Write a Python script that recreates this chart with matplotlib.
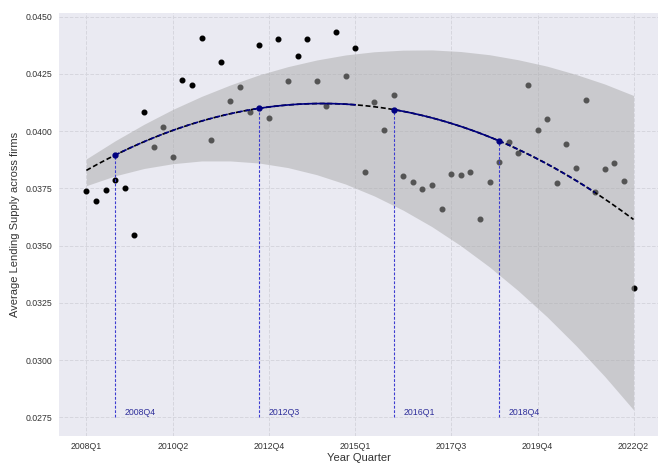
import numpy as np
import matplotlib.pyplot as plt

# quarters 2008Q1 .. 2022Q2
quarters = [f"{y}Q{q}" for y in range(2008, 2023) for q in range(1, 5)][:58]

supply = [0.03740, 0.03695, 0.03742, 0.03786, 0.03751, 0.03547, 0.04083, 0.03930,
          0.04018, 0.03887, 0.04224, 0.04202, 0.04408, 0.03960, 0.04302, 0.04133,
          0.04194, 0.04084, 0.04375, 0.04059, 0.04401, 0.04221, 0.04328, 0.04403,
          0.04221, 0.04109, 0.04432, 0.04240, 0.04362, 0.03822, 0.04126, 0.04004,
          0.04158, 0.03806, 0.03777, 0.03748, 0.03765, 0.03659, 0.03813, 0.03807,
          0.03823, 0.03615, 0.03780, 0.03864, 0.03954, 0.03906, 0.04202, 0.04005,
          0.04052, 0.03775, 0.03945, 0.03838, 0.04135, 0.03733, 0.03834, 0.03860,
          0.03784, 0.03315]

# shaded band, read every third quarter
band_q = ["2008Q1", "2008Q4", "2009Q3", "2010Q2", "2011Q1", "2011Q4", "2012Q3",
          "2013Q2", "2014Q1", "2014Q4", "2015Q3", "2016Q2", "2017Q1", "2017Q4",
          "2018Q3", "2019Q2", "2020Q1", "2020Q4", "2021Q3", "2022Q2"]
band_upper = [0.03879, 0.03958, 0.04030, 0.04095, 0.04152, 0.04202, 0.04246,
              0.04282, 0.04311, 0.04333, 0.04347, 0.04354, 0.04355, 0.04348,
              0.04334, 0.04312, 0.04284, 0.04248, 0.04206, 0.04156]
band_lower = [0.03762, 0.03805, 0.03837, 0.03858, 0.03870, 0.03870, 0.03861,
              0.03841, 0.03810, 0.03769, 0.03717, 0.03655, 0.03583, 0.03500,
              0.03407, 0.03303, 0.03189, 0.03064, 0.02929, 0.02783]

marked = ["2008Q4", "2012Q3", "2016Q1", "2018Q4"]
solid_spans = [("2012Q3", "2015Q1"), ("2016Q1", "2018Q4")]
dashed_spans = [("2008Q4", "2012Q3"), ("2018Q4", "2021Q2")]
tick_labels = ["2008Q1", "2010Q2", "2012Q4", "2015Q1", "2017Q3", "2019Q4", "2022Q2"]

plt.rcParams['font.family'] = ['Liberation Sans', 'DejaVu Sans']
x = np.arange(len(quarters))
pos = {q: i for i, q in enumerate(quarters)}

fig = plt.figure(figsize=(6.58, 4.63), dpi=100)
ax = fig.add_axes([59 / 658, 0.059, 599 / 658, 0.9123])
ax.set_facecolor('#EAEAF2')
for s in ax.spines.values():
    s.set_visible(False)
ax.grid(True, color='#d6d6de', linestyle='--', linewidth=0.7)
ax.set_axisbelow(True)

ax.scatter(x, supply, s=11, color='black', zorder=2)
bx = [pos[q] for q in band_q]
ax.fill_between(bx, band_lower, band_upper, color='darkgray', alpha=0.5, lw=0, zorder=3)

# quadratic trend fitted to the quarterly values
coef = np.polyfit(x, supply, 2)
xs = np.linspace(0, len(quarters) - 1, 300)
ax.plot(xs, np.polyval(coef, xs), color='black', lw=1.2, dashes=(3, 1.6), zorder=4)
for a, b in dashed_spans:
    xx = np.linspace(pos[a], pos[b], 100)
    ax.plot(xx, np.polyval(coef, xx), color='navy', lw=1.2, dashes=(3, 1.6), zorder=5)
for a, b in solid_spans:
    xx = np.linspace(pos[a], pos[b], 100)
    ax.plot(xx, np.polyval(coef, xx), color='navy', lw=1.2, zorder=5)

for q in marked:
    xi = pos[q]
    yv = np.polyval(coef, xi)
    ax.plot([xi], [yv], 'o', color='navy', ms=3.5, zorder=6)
    ax.vlines(xi, 0.0275, yv, colors='#3c3cd0', linestyles=(0, (2.5, 1.5)), lw=0.8, zorder=4)
    ax.text(xi + 1, 0.0275, q, color='#2e2e9a', fontsize=6.3, ha='left', va='bottom')

ax.set_xticks([pos[t] for t in tick_labels])
ax.set_xticklabels(tick_labels)
ax.set_yticks([0.0275, 0.0300, 0.0325, 0.0350, 0.0375, 0.0400, 0.0425, 0.0450])
ax.set_yticklabels([f"{v:.4f}" for v in ax.get_yticks()])
ax.tick_params(length=0, labelsize=6.3, labelcolor='#333333', pad=4.5)
ax.set_xlim(-2.85, 59.55)
ax.set_ylim(0.02670, 0.04515)
ax.set_xlabel("Year Quarter", fontsize=8, color='#333333', labelpad=1.5)
ax.set_ylabel("Average Lending Supply across firms", fontsize=8, color='#333333', labelpad=4)

fig.savefig("out.png", dpi=100)
